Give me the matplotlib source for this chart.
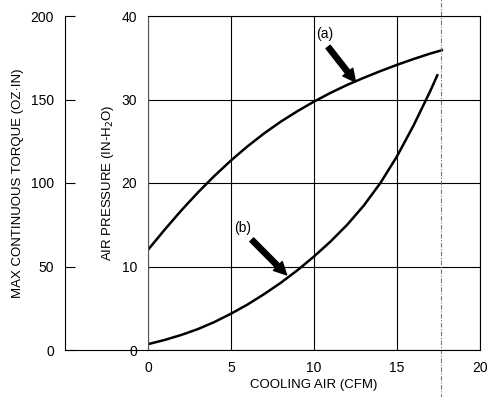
import matplotlib.pyplot as plt
import numpy as np

plt.rcParams['font.family'] = ['Liberation Sans', 'DejaVu Sans']

# curve (a) (cfm, in-H2O)
cfm_a = [0, 1, 2, 3, 4, 5, 6, 7, 8, 9, 10, 11, 12, 13, 14, 15, 16, 17, 17.7]
pres_a = [12.0, 14.4, 16.7, 18.85, 20.85, 22.7, 24.4, 25.95, 27.35, 28.6,
          29.75, 30.8, 31.75, 32.6, 33.4, 34.15, 34.85, 35.5, 35.9]

# curve (b)
cfm_b = [0, 1, 2, 3, 4, 5, 6, 7, 8, 9, 10, 11, 12, 13, 14, 15, 16, 17, 17.43]
pres_b = [0.7, 1.2, 1.8, 2.5, 3.35, 4.35, 5.45, 6.7, 8.05, 9.55, 11.2,
          13.0, 15.0, 17.3, 20.0, 23.2, 26.9, 31.0, 32.9]

x_ticks = [0, 5, 10, 15, 20]
p_ticks = [0, 10, 20, 30, 40]
t_ticks = [0, 50, 100, 150, 200]
limit_cfm = 17.67

W, H = 490, 397
fig = plt.figure(figsize=(W / 100, H / 100), dpi=100)

L, R, T, B = 148, 480, 16, 350
ax = fig.add_axes([L / W, 1 - B / H, (R - L) / W, (B - T) / H])
ax.set_xlim(0, 20)
ax.set_ylim(0, 40)
ax.set_xticks(x_ticks)
ax.set_yticks(p_ticks)
ax.grid(True, color='black', lw=0.8)
ax.tick_params(length=0, labelsize=10, pad=8)
for s in ax.spines.values():
    s.set_linewidth(0.8)
ax.spines['left'].set_color('#555555')

ax.plot(cfm_a, pres_a, color='black', lw=1.8)
ax.plot(cfm_b, pres_b, color='black', lw=1.8)

ax.axvline(limit_cfm, ymin=-0.145, ymax=1.05, clip_on=False, color='#777777',
           lw=0.8, ls=(0, (4, 1.5, 1, 1.5)))

arrow = dict(arrowstyle='simple,head_width=0.9,head_length=0.9,tail_width=0.38',
             color='black', shrinkA=0, shrinkB=0)
ax.annotate('', xy=(12.5, 32.1), xytext=(10.85, 36.3), arrowprops=arrow)
ax.annotate('', xy=(8.35, 9.0), xytext=(6.25, 13.2), arrowprops=arrow)
ax.text(10.65, 37.8, '(a)', fontsize=10, ha='center', va='center')
ax.text(5.7, 14.6, '(b)', fontsize=10, ha='center', va='center')

ax.set_xlabel('COOLING AIR (CFM)', fontsize=9.5, labelpad=3)
ax.set_ylabel('AIR PRESSURE (IN-H$_2$O)', fontsize=9.5, labelpad=4)

# outer torque scale
L2 = 65
ax2 = fig.add_axes([L2 / W, 1 - B / H, (L - L2) / W, (B - T) / H])
ax2.set_ylim(0, 200)
ax2.set_xlim(0, 1)
ax2.set_yticks(t_ticks)
ax2.set_xticks([])
ax2.tick_params(axis='y', direction='in', length=7, width=0.8, labelsize=10, pad=8)
ax2.spines['top'].set_visible(False)
ax2.spines['right'].set_visible(False)
for s in ax2.spines.values():
    s.set_linewidth(0.8)
ax2.patch.set_alpha(0)
ax2.set_ylabel('MAX CONTINUOUS TORQUE (OZ·IN)', fontsize=9.5, labelpad=5)

fig.savefig('out.png', dpi=100)
